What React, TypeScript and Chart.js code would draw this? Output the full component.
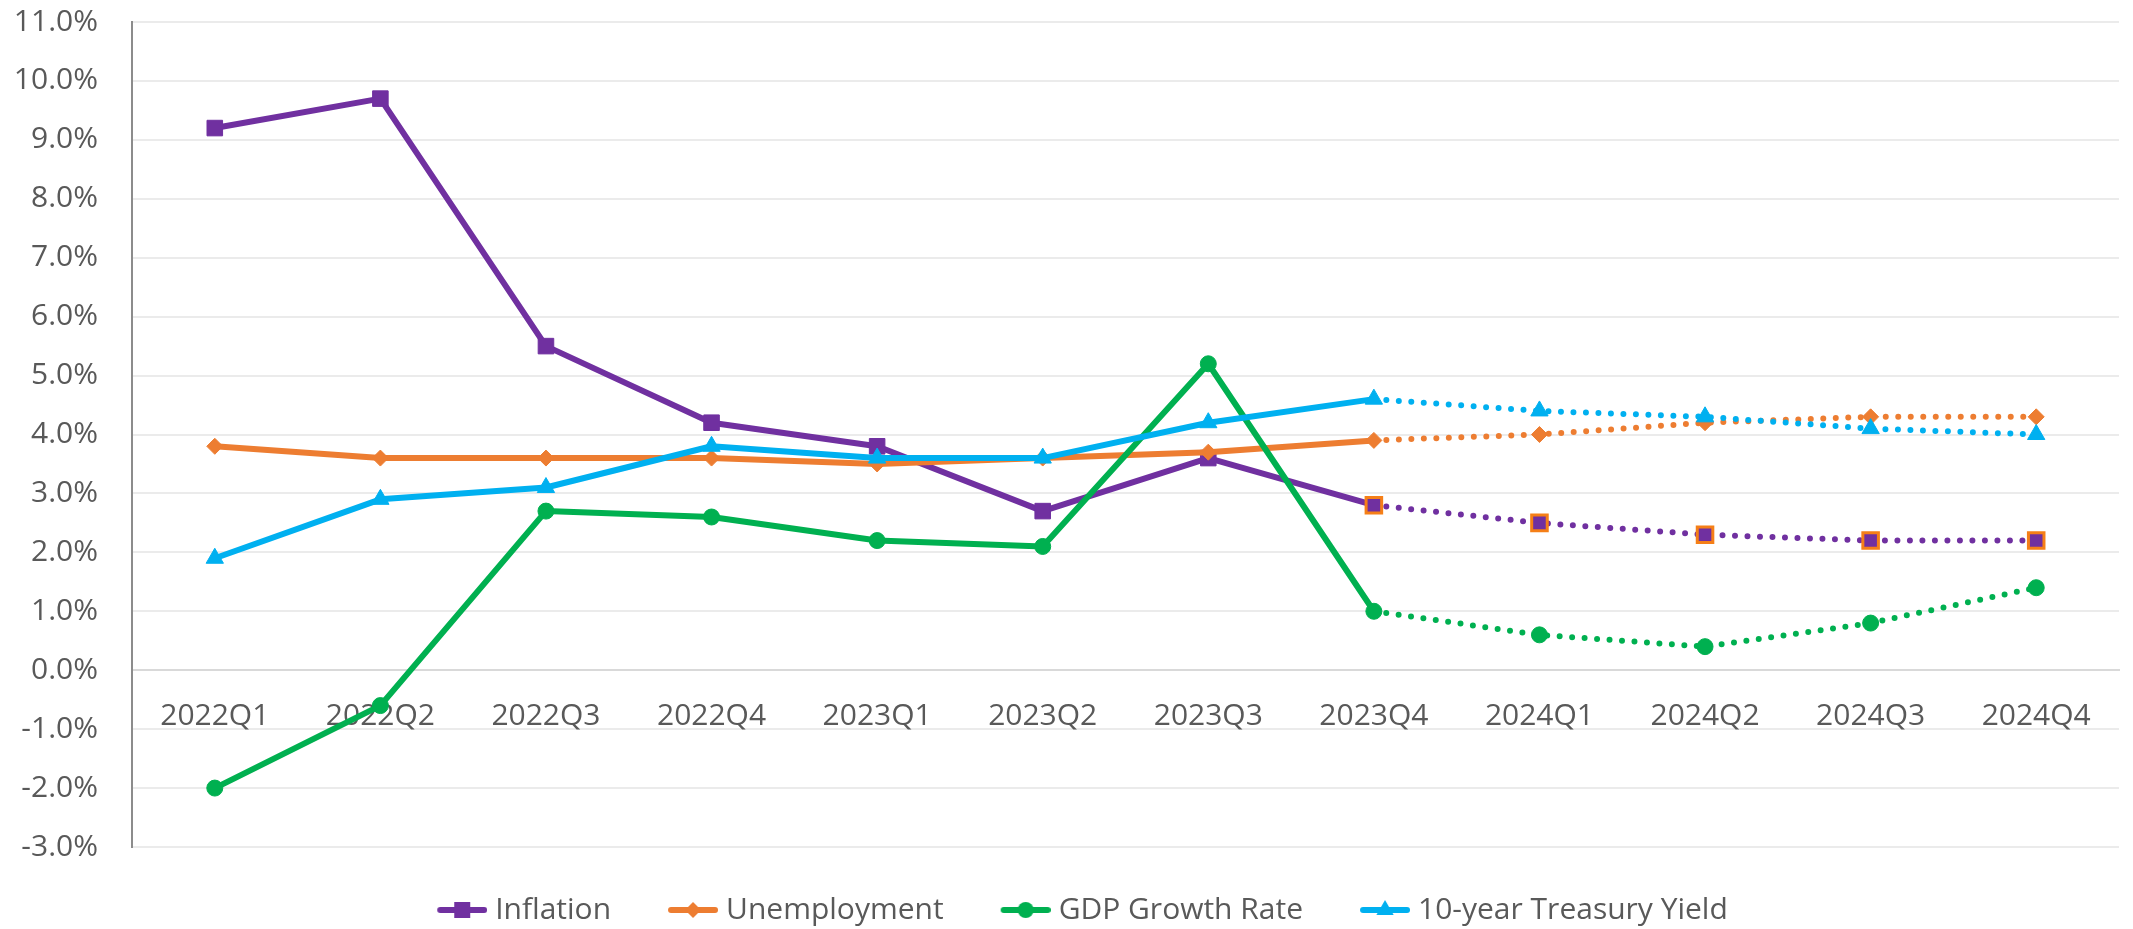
import { useEffect, useRef } from "react";
import { Chart, registerables } from "chart.js";

Chart.register(...registerables);

const categories = ["2022Q1", "2022Q2", "2022Q3", "2022Q4", "2023Q1", "2023Q2", "2023Q3", "2023Q4", "2024Q1", "2024Q2", "2024Q3", "2024Q4"];
const inflation = [9.2, 9.7, 5.5, 4.2, 3.8, 2.7, 3.6, 2.8, 2.5, 2.3, 2.2, 2.2];
const unemployment = [3.8, 3.6, 3.6, 3.6, 3.5, 3.6, 3.7, 3.9, 4.0, 4.2, 4.3, 4.3];
const gdpGrowth = [-2.0, -0.6, 2.7, 2.6, 2.2, 2.1, 5.2, 1.0, 0.6, 0.4, 0.8, 1.4];
const treasuryYield = [1.9, 2.9, 3.1, 3.8, 3.6, 3.6, 4.2, 4.6, 4.4, 4.3, 4.1, 4.0];
const seriesNames = ["Inflation", "Unemployment", "GDP Growth Rate", "10-year Treasury Yield"];
const seriesColors = ["#7030A0", "#ED7D31", "#00B050", "#00B0F0"];
const yMin = -3;
const yMax = 11;
const yStep = 1;
const forecastStart = 7;

const FONT = '"Open Sans", "Noto Sans", sans-serif';
const TEXT = "#595959";

function makeLegendImage(color: string, shape: string): HTMLCanvasElement {
  const c = document.createElement("canvas");
  c.width = 66;
  c.height = 24;
  const g = c.getContext("2d")!;
  const cy = 12;
  g.strokeStyle = color;
  g.lineWidth = 6;
  g.lineCap = "round";
  g.beginPath();
  g.moveTo(19, cy);
  g.lineTo(63, cy);
  g.stroke();
  const cx = 41;
  g.fillStyle = color;
  g.beginPath();
  if (shape === "rect") {
    g.rect(cx - 8, cy - 8, 16, 16);
  } else if (shape === "rectRot") {
    g.moveTo(cx, cy - 8);
    g.lineTo(cx + 8, cy);
    g.lineTo(cx, cy + 8);
    g.lineTo(cx - 8, cy);
    g.closePath();
  } else if (shape === "circle") {
    g.arc(cx, cy, 8, 0, Math.PI * 2);
  } else {
    const r = 10;
    g.moveTo(cx, cy - r);
    g.lineTo(cx + r * Math.sin((2 * Math.PI) / 3), cy - r * Math.cos((2 * Math.PI) / 3));
    g.lineTo(cx + r * Math.sin((4 * Math.PI) / 3), cy - r * Math.cos((4 * Math.PI) / 3));
    g.closePath();
  }
  g.fill();
  return c;
}

const legendShift = {
  id: "legendShift",
  afterLayout(chart: any) {
    if (chart.legend) {
      chart.legend.left += 11.5;
      chart.legend.right += 11.5;
    }
  },
};

export default function App() {
  const ref = useRef<HTMLCanvasElement | null>(null);

  useEffect(() => {
    if (!ref.current) return;
    Chart.defaults.font.family = FONT;
    const shapes = ["rect", "rectRot", "circle", "triangle"];
    const radii = [11, 8, 8, 10];
    const values = [inflation, unemployment, gdpGrowth, treasuryYield];
    const legendImages = shapes.map((s, i) => makeLegendImage(seriesColors[i], s));

    const datasets = values.map((data, i) => ({
      label: seriesNames[i],
      data,
      borderColor: seriesColors[i],
      backgroundColor: seriesColors[i],
      borderWidth: 6,
      borderJoinStyle: "round" as const,
      pointStyle: shapes[i],
      pointRadius: radii[i],
      pointHoverRadius: radii[i],
      pointBackgroundColor: seriesColors[i],
      pointBorderColor:
        i === 0
          ? data.map((_, j) => (j >= forecastStart ? "#F57F17" : seriesColors[i]))
          : seriesColors[i],
      pointBorderWidth: i === 0 ? data.map((_, j) => (j >= forecastStart ? 3 : 1)) : 1,
      order: 4 - i,
      tension: 0,
      fill: false,
      segment: {
        borderDash: (ctx: any) => (ctx.p0DataIndex >= forecastStart ? [0, 12.5] : undefined),
        borderCapStyle: (ctx: any) => (ctx.p0DataIndex >= forecastStart ? "round" : undefined),
      },
    }));

    const chart = new Chart(ref.current, {
      type: "line",
      data: { labels: categories, datasets: datasets as any },
      plugins: [legendShift],
      options: {
        animation: false,
        responsive: true,
        maintainAspectRatio: false,
        layout: { padding: { top: 22, left: 0, right: 0, bottom: -6 } },
        plugins: {
          tooltip: { enabled: false },
          legend: {
            position: "bottom",
            labels: {
              usePointStyle: true,
              pointStyleWidth: 52,
              padding: 48,
              color: TEXT,
              font: { size: 30, family: FONT },
              generateLabels: (ch: any) =>
                ch.data.datasets.map((ds: any, i: number) => ({
                  text: ds.label,
                  pointStyle: legendImages[i],
                  fillStyle: "transparent",
                  strokeStyle: "transparent",
                  lineWidth: 0,
                  hidden: false,
                  datasetIndex: i,
                  fontColor: TEXT,
                })),
            },
          },
        },
        scales: {
          x: {
            type: "category",
            offset: true,
            position: { y: 0 } as any,
            grid: { display: false, drawTicks: false },
            border: { display: true, color: "#d9d9d9", width: 2 },
            ticks: {
              color: TEXT,
              font: { size: 30, family: FONT },
              padding: 28,
              maxRotation: 0,
              autoSkip: false,
            },
          },
          y: {
            min: yMin,
            max: yMax,
            ticks: {
              stepSize: yStep,
              color: TEXT,
              font: { size: 30, family: FONT },
              padding: 34,
              callback: (v: any) => Number(v).toFixed(1) + "%",
            },
            grid: { color: "#ebebeb", lineWidth: 2, drawTicks: false },
            border: { display: true, color: "#8c8c8c", width: 2 },
            afterFit: (s: any) => {
              s.width = 132;
              s.paddingTop = 0;
              s.paddingBottom = 0;
            },
          },
        },
      },
    });
    return () => chart.destroy();
  }, []);

  return (
    <div style={{ position: "absolute", left: 0, top: 0, width: 2133, height: 929, background: "#fff" }}>
      <canvas ref={ref} />
    </div>
  );
}
